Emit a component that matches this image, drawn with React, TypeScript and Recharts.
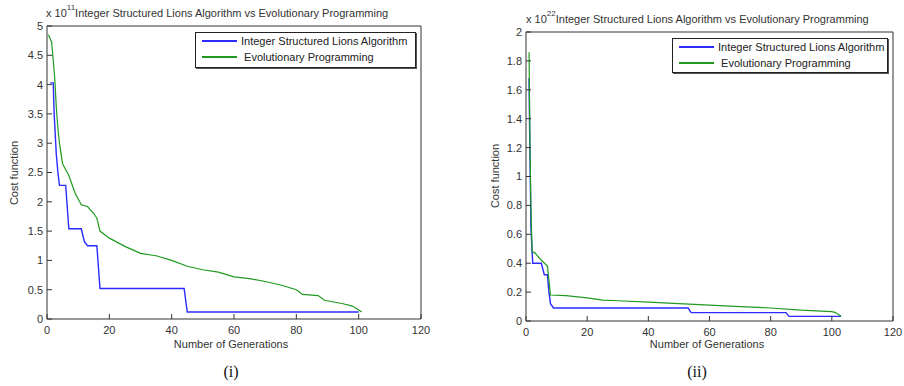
import { LineChart, Line, XAxis, YAxis, Legend } from 'recharts';

// panel (i)
const islaGenA = [1, 2, 2.3, 3, 3.5, 4, 6, 7, 11, 12, 13, 16, 17, 44, 45, 100];
const islaCostA = [4.03, 4.03, 3.5, 2.8, 2.5, 2.28, 2.28, 1.54, 1.54, 1.32, 1.25, 1.25, 0.52, 0.52, 0.12, 0.12];
const epGenA = [0.5, 1.5, 2.5, 3, 3.5, 4, 5, 7, 9, 11, 13, 15, 16, 17, 20, 25, 30, 35, 40, 45, 50, 55, 60, 65, 70, 75, 80, 82, 87, 89, 95, 98, 101];
const epCostA = [4.85, 4.72, 4.1, 3.6, 3.25, 3.0, 2.65, 2.45, 2.15, 1.95, 1.92, 1.8, 1.72, 1.5, 1.38, 1.24, 1.12, 1.08, 1.0, 0.9, 0.84, 0.8, 0.72, 0.69, 0.64, 0.58, 0.5, 0.42, 0.4, 0.32, 0.26, 0.22, 0.12];

// panel (ii)
const islaGenB = [1, 1.2, 1.4, 1.6, 2, 2.2, 5, 6, 7, 7.5, 8, 9, 53, 54, 85, 86, 103];
const islaCostB = [1.68, 1.3, 1.0, 0.65, 0.48, 0.4, 0.4, 0.32, 0.32, 0.2, 0.12, 0.09, 0.09, 0.058, 0.058, 0.032, 0.032];
const epGenB = [1, 1.3, 1.6, 2, 3, 5, 7, 7.5, 8, 13, 20, 25, 30, 40, 50, 60, 70, 80, 90, 100, 101, 103];
const epCostB = [1.86, 1.2, 0.8, 0.48, 0.47, 0.42, 0.38, 0.28, 0.18, 0.175, 0.16, 0.145, 0.14, 0.13, 0.12, 0.11, 0.1, 0.09, 0.075, 0.065, 0.06, 0.035];

const xTicks = [0, 20, 40, 60, 80, 100, 120];
const yTicksA = [0, 0.5, 1, 1.5, 2, 2.5, 3, 3.5, 4, 4.5, 5];
const yTicksB = [0, 0.2, 0.4, 0.6, 0.8, 1, 1.2, 1.4, 1.6, 1.8, 2];

const TITLE = 'Integer Structured Lions Algorithm vs Evolutionary Programming';
const ISLA = 'Integer Structured Lions Algorithm';
const EP = 'Evolutionary Programming';

const FONT = '"Liberation Sans", Arial, sans-serif';
const AXIS = '#333';
const BLUE = '#2b2bff';
const GREEN = '#1f9a1f';

const pairs = (xs: number[], ys: number[]) => xs.map((g, i) => ({ gen: g, cost: ys[i] }));
const fmt = (v: number) => String(Number(v.toFixed(1)));

function makeLegend(box: any) {
  return () => (
    <div style={{ position: 'relative', width: box.width, height: box.height, border: '1px solid #222', boxShadow: '1px 1px 0 #555', background: '#fff', boxSizing: 'border-box', fontFamily: FONT, fontSize: 11, color: '#222' }}>
      {[{ c: BLUE, t: ISLA, y: 2 }, { c: GREEN, t: ' ' + EP, y: 18 }].map((r) => (
        <div key={r.t} style={{ position: 'absolute', left: 6, top: r.y, display: 'flex', alignItems: 'center', whiteSpace: 'pre' }}>
          <span style={{ display: 'inline-block', width: 35, height: 1.5, background: r.c, marginRight: 4 }} />
          <span>{r.t}</span>
        </div>
      ))}
    </div>
  );
}

function Panel(p: any) {
  const tickStyle = { fill: '#333', fontSize: 11, fontFamily: FONT };
  return (
    <div style={{ position: 'absolute', left: p.left, top: 0, width: p.width, height: 386 }}>
      <LineChart width={p.width} height={340} margin={p.margin}>
        <XAxis dataKey="gen" type="number" domain={[0, 120]} ticks={xTicks} height={1} tickSize={-5} tickMargin={12}
          stroke={AXIS} tick={tickStyle} interval={0} />
        <XAxis xAxisId="top" orientation="top" type="number" domain={[0, 120]} ticks={xTicks} height={1} tickSize={-5}
          stroke={AXIS} tickFormatter={() => ''} />
        <YAxis type="number" domain={[0, p.yMax]} ticks={p.yTicks} width={1} tickSize={-5} tickMargin={9}
          stroke={AXIS} tick={tickStyle} tickFormatter={fmt} interval={0} />
        <YAxis yAxisId="right" orientation="right" type="number" domain={[0, p.yMax]} ticks={p.yTicks} width={1} tickSize={-5}
          stroke={AXIS} tickFormatter={() => ''} />
        <Legend layout="horizontal" verticalAlign="middle" align="center" content={makeLegend(p.legend)}
          wrapperStyle={{ position: 'absolute', left: p.legend.left, top: p.legend.top, width: p.legend.width, height: p.legend.height }} />
        <Line data={p.isla} dataKey="cost" name={ISLA} stroke={BLUE} strokeWidth={1.4} dot={false} isAnimationActive={false} />
        <Line data={p.ep} dataKey="cost" name={EP} stroke={GREEN} strokeWidth={1.2} dot={false} isAnimationActive={false} />
      </LineChart>
      <div style={{ position: 'absolute', left: p.titleX, top: p.titleY, fontFamily: FONT, fontSize: 11, color: '#333', whiteSpace: 'nowrap' }}>
        x 10<sup style={{ fontSize: 8, verticalAlign: 'top', position: 'relative', top: -4 }}>{p.exp}</sup>{TITLE}
      </div>
      <div style={{ position: 'absolute', left: p.yLabel[0], top: p.yLabel[1], transform: 'translate(-50%,-50%) rotate(-90deg)', fontFamily: FONT, fontSize: 11, color: '#333', whiteSpace: 'nowrap' }}>
        Cost function
      </div>
      <div style={{ position: 'absolute', left: p.xLabel, top: 344, transform: 'translate(-50%,-50%)', fontFamily: FONT, fontSize: 11, color: '#333', whiteSpace: 'nowrap' }}>
        Number of Generations
      </div>
      <div style={{ position: 'absolute', left: p.cap, top: 372, transform: 'translate(-50%,-50%)', fontFamily: '"Liberation Serif", "Times New Roman", serif', fontSize: 16, color: '#111' }}>
        {p.caption}
      </div>
    </div>
  );
}

export default function App() {
  return (
    <div style={{ position: 'absolute', left: 0, top: 0, width: 904, height: 386, background: '#fff' }}>
      <Panel left={0} width={450} margin={{ top: 25, left: 46, right: 28, bottom: 20 }} yMax={5} yTicks={yTicksA}
        isla={pairs(islaGenA, islaCostA)} ep={pairs(epGenA, epCostA)}
        legend={{ left: 195, top: 32, width: 221, height: 36 }}
        titleX={46} titleY={7} exp="11" yLabel={[14, 173]} xLabel={231} cap={231} caption="(i)" />
      <Panel left={450} width={454} margin={{ top: 31, left: 75, right: 10, bottom: 18 }} yMax={2} yTicks={yTicksB}
        isla={pairs(islaGenB, islaCostB)} ep={pairs(epGenB, epCostB)}
        legend={{ left: 222, top: 38, width: 216, height: 35 }}
        titleX={76} titleY={13} exp="22" yLabel={[45, 176]} xLabel={257} cap={247} caption="(ii)" />
    </div>
  );
}
